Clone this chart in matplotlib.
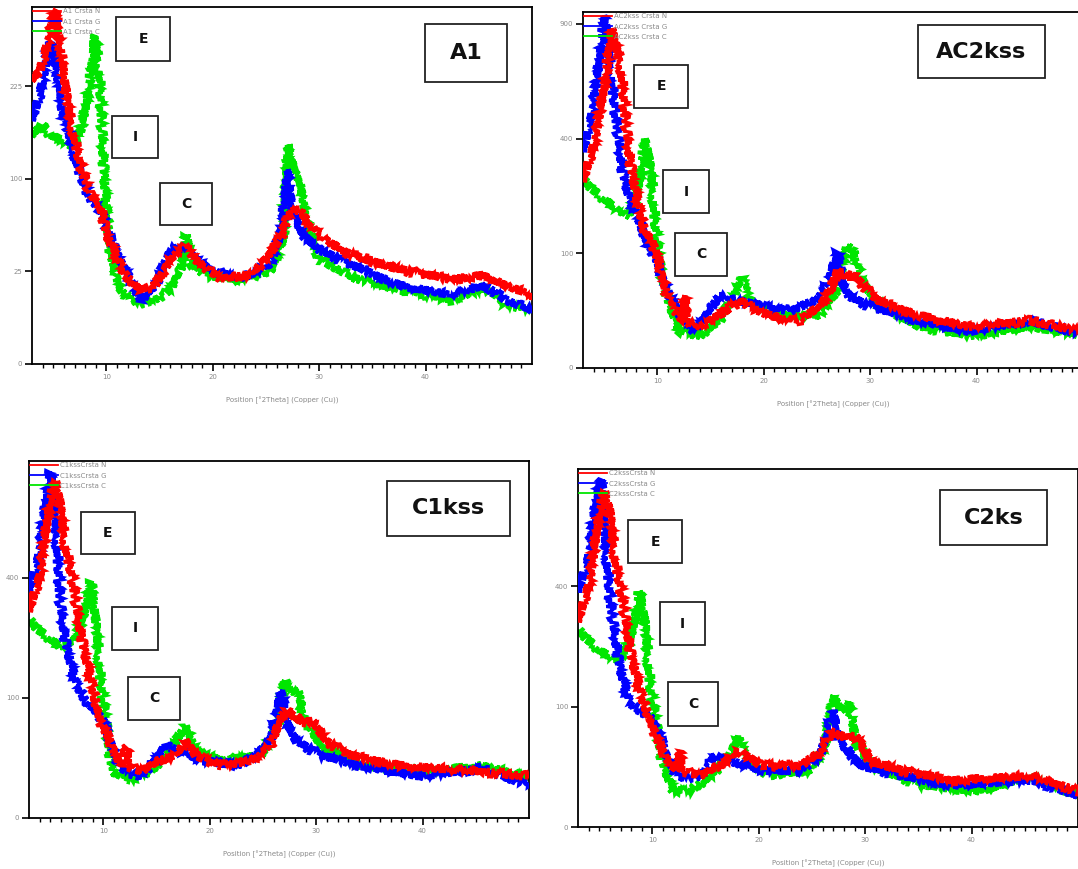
import numpy as np
import matplotlib
matplotlib.use("Agg")
import matplotlib.pyplot as plt
from matplotlib.lines import Line2D
from matplotlib.patches import Rectangle

# ---------------- data (2theta, counts) ----------------
A1_N_x = [3.0, 3.75, 4.5, 5.2, 5.8, 6.6, 7.5, 8.5, 9.4, 10.0, 10.8, 11.7, 13.2, 14.6, 16.0, 17.4, 18.3, 20.7, 23.5, 25.4, 26.5, 27.3, 28.2, 29.2, 30.6, 32.9, 37.6, 42.3, 45.6, 47.5, 50.0]
A1_N_y = [236, 250, 307, 366, 270, 174, 116, 83, 74, 49, 35, 23, 16, 18, 32, 41, 32, 21, 23, 35, 49, 69, 69, 56, 45, 35, 26, 21, 23, 18, 14]
A1_G_x = [3.0, 3.6, 4.2, 4.7, 5.2, 5.8, 6.6, 7.5, 8.5, 9.4, 10.0, 10.8, 11.7, 13.2, 14.6, 16.0, 16.9, 17.9, 19.7, 22.6, 25.4, 26.5, 27.0, 27.5, 28.5, 30.0, 32.9, 37.6, 42.3, 45.6, 47.5, 50.0]
A1_G_y = [174, 204, 253, 303, 270, 189, 147, 104, 79, 69, 56, 38, 26, 12, 18, 38, 41, 35, 26, 21, 29, 52, 110, 65, 49, 38, 29, 18, 14, 18, 12, 8.5]
A1_C_x = [3.0, 4.0, 4.7, 5.8, 6.6, 7.5, 8.0, 8.5, 8.9, 9.3, 9.6, 9.9, 10.4, 11.3, 12.7, 14.6, 16.0, 17.0, 17.5, 18.0, 19.3, 22.6, 25.4, 26.6, 27.1, 27.6, 28.1, 28.7, 30.0, 33.5, 37.6, 42.3, 45.6, 47.5, 50.0]
A1_C_y = [153, 167, 153, 147, 140, 153, 189, 236, 316, 253, 147, 79, 35, 16, 10, 12, 16, 26, 49, 29, 23, 21, 25, 45, 140, 110, 104, 65, 32, 21, 16, 12, 17, 10, 8.5]

AC2_N_x = [3.0, 4.1, 5.1, 5.7, 6.5, 6.9, 7.4, 8.1, 8.8, 9.5, 10.2, 11.0, 11.6, 12.5, 12.6, 12.7, 14.0, 15.8, 17.7, 18.6, 20.5, 23.3, 25.2, 26.3, 26.9, 27.6, 28.5, 29.4, 30.8, 34.6, 39.3, 44.9, 50.0]
AC2_N_y = [266, 392, 626, 873, 716, 502, 326, 212, 143, 123, 79, 34, 25, 16, 39, 16, 13, 21, 34, 29, 21, 17, 29, 45, 72, 64, 64, 51, 34, 21, 13, 17, 10]
AC2_G_x = [3.0, 3.7, 4.3, 4.9, 5.1, 5.5, 6.0, 6.7, 7.4, 8.3, 9.1, 9.8, 10.4, 11.2, 12.1, 13.5, 14.9, 15.8, 17.2, 19.6, 22.4, 24.7, 26.1, 26.9, 27.3, 28.0, 29.9, 34.6, 39.3, 44.9, 50.0]
AC2_G_y = [358, 464, 626, 863, 942, 716, 502, 295, 212, 164, 113, 95, 64, 39, 21, 10, 25, 39, 36, 29, 25, 34, 58, 104, 58, 39, 29, 17, 10, 17, 8]
AC2_C_x = [3.0, 4.6, 6.5, 7.4, 8.15, 8.6, 8.9, 9.4, 9.8, 10.2, 11.0, 12.1, 14.0, 15.8, 17.2, 17.9, 18.6, 21.5, 25.2, 26.9, 27.8, 28.5, 29.1, 30.4, 34.6, 39.3, 44.9, 50.0]
AC2_C_y = [266, 225, 187, 176, 238, 330, 399, 295, 143, 79, 34, 10, 8, 17, 39, 64, 34, 21, 21, 45, 113, 104, 64, 34, 13, 8, 13, 8]

C1_N_x = [3.0, 4.0, 5.0, 5.5, 5.9, 6.4, 7.1, 7.8, 8.8, 9.7, 10.6, 11.6, 12.2, 12.3, 13.5, 15.4, 16.8, 17.7, 18.7, 21.0, 23.8, 25.7, 26.7, 27.2, 28.6, 29.7, 30.9, 33.3, 38.0, 45.5, 50.0]
C1_N_y = [298, 407, 698, 789, 698, 514, 390, 243, 130, 65, 41, 19, 36, 19, 15, 23, 27, 41, 27, 19, 23, 36, 72, 79, 65, 65, 41, 27, 19, 15, 12]
C1_G_x = [3.0, 3.8, 4.5, 5.0, 5.5, 5.9, 6.4, 7.3, 8.3, 9.2, 10.0, 10.8, 11.6, 13.5, 14.9, 15.8, 17.2, 19.1, 22.9, 25.3, 26.2, 26.7, 27.2, 28.1, 30.5, 34.2, 39.9, 45.5, 50.0]
C1_G_y = [358, 459, 655, 836, 613, 327, 218, 130, 95, 80, 65, 36, 15, 12, 23, 36, 31, 23, 19, 36, 72, 112, 65, 41, 27, 19, 12, 17, 7]
C1_C_x = [3.0, 4.0, 5.9, 7.3, 8.3, 8.8, 9.3, 9.7, 10.2, 10.8, 12.5, 14.4, 16.3, 17.7, 18.7, 21.0, 24.8, 26.5, 27.0, 27.6, 28.3, 29.0, 30.5, 34.2, 39.9, 45.5, 50.0]
C1_C_y = [270, 243, 205, 218, 298, 390, 270, 130, 65, 15, 10, 15, 31, 59, 31, 23, 27, 65, 130, 112, 112, 65, 36, 19, 15, 19, 12]

C2_N_x = [3.0, 4.1, 4.9, 5.5, 6.0, 6.5, 7.2, 7.9, 8.8, 9.8, 10.7, 11.7, 12.5, 12.6, 12.7, 14.5, 16.4, 18.1, 20.2, 24.0, 25.8, 26.8, 27.7, 29.1, 30.5, 33.4, 38.1, 45.6, 50.0]
C2_N_y = [292, 417, 645, 777, 688, 487, 352, 213, 127, 77, 45, 26, 22, 40, 22, 18, 26, 40, 26, 26, 40, 63, 57, 57, 30, 22, 15, 18, 9]
C2_G_x = [3.0, 3.9, 4.6, 5.1, 5.5, 6.0, 6.8, 7.7, 8.8, 9.8, 10.7, 11.5, 12.6, 14.5, 15.9, 17.3, 20.2, 24.0, 25.8, 26.6, 27.0, 27.5, 29.6, 33.4, 38.1, 45.6, 50.0]
C2_G_y = [383, 487, 688, 834, 603, 352, 190, 109, 93, 85, 57, 30, 15, 18, 35, 30, 22, 22, 35, 77, 93, 51, 26, 18, 12, 15, 7]
C2_C_x = [3.0, 5.1, 7.0, 7.9, 8.5, 8.8, 9.3, 9.8, 10.3, 10.9, 11.9, 13.6, 15.5, 17.2, 18.1, 18.8, 21.1, 24.9, 26.3, 27.0, 27.7, 28.5, 29.1, 30.5, 35.2, 40.8, 45.6, 50.0]
C2_C_y = [265, 213, 190, 238, 321, 384, 292, 127, 77, 30, 9, 9, 18, 35, 57, 30, 18, 22, 45, 118, 93, 109, 51, 26, 12, 9, 18, 7]

panel_titles = ["A1", "AC2kss", "C1kss", "C2ks"]
legend_prefix = ["A1 Crsta", "AC2kss Crsta", "C1kssCrsta", "C2kssCrsta"]
series_suffix = ["N", "G", "C"]
y_ticks = [[0, 25, 100, 225], [0, 100, 400, 900], [0, 100, 400], [0, 100, 400]]
x_ticks = [10, 20, 30, 40]
x_label = "Position [°2Theta] (Copper (Cu))"

panels = [
    [(A1_N_x, A1_N_y), (A1_G_x, A1_G_y), (A1_C_x, A1_C_y)],
    [(AC2_N_x, AC2_N_y), (AC2_G_x, AC2_G_y), (AC2_C_x, AC2_C_y)],
    [(C1_N_x, C1_N_y), (C1_G_x, C1_G_y), (C1_C_x, C1_C_y)],
    [(C2_N_x, C2_N_y), (C2_G_x, C2_G_y), (C2_C_x, C2_C_y)],
]

# ---------------- layout (pixels) ----------------
W, H = 1078, 869
colors = ["#ff0000", "#0000ff", "#00e600"]
axes_px = [(32, 7, 532, 364), (583, 12, 1083, 368), (29, 461, 529, 818), (578, 469, 1078, 827)]
ytops = [372, 963, 885, 883]
title_box = [(425, 24, 507, 82), (918, 25, 1045, 78), (387, 481, 510, 536), (940, 490, 1047, 545)]
letter_boxes = [
    [("E", 116, 17, 170, 61), ("I", 112, 116, 158, 158), ("C", 160, 183, 212, 225)],
    [("E", 634, 65, 688, 108), ("I", 663, 170, 709, 213), ("C", 675, 233, 727, 276)],
    [("E", 81, 512, 135, 554), ("I", 112, 607, 158, 650), ("C", 128, 677, 180, 720)],
    [("E", 628, 520, 682, 563), ("I", 660, 602, 705, 645), ("C", 668, 682, 718, 726)],
]

fig = plt.figure(figsize=(W / 100, H / 100), dpi=100)
grey = "#8a8a8a"


def fwd(v):
    return np.sqrt(np.clip(v, 0, None))


def inv(v):
    return np.square(v)


for i in range(4):
    l, t, r, b = axes_px[i]
    ax = fig.add_axes([l / W, 1 - b / H, (r - l) / W, (b - t) / H])
    ax.set_yscale("function", functions=(fwd, inv))
    for k in [2, 1, 0]:
        xs, ys = panels[i][k]
        ln, = ax.plot(xs, ys, color=colors[k], lw=2.3, solid_joinstyle="miter",
                      zorder=2 + (2 - k))
        ln.set_sketch_params(scale=4.5, length=1.5, randomness=2.0)
    ax.set_xticks(x_ticks)
    ax.set_xticks(np.arange(4, 50, 1), minor=True)
    ax.set_yticks(y_ticks[i])
    ax.set_xlim(3, 50)
    ax.set_ylim(0, ytops[i])
    ax.tick_params(axis="both", which="major", direction="out", length=5, width=1.2,
                   labelsize=5, labelcolor=grey, color="black", pad=2)
    ax.tick_params(axis="x", which="minor", direction="out", length=3, width=1.0, color="black")
    ax.tick_params(axis="y", which="minor", left=False)
    for sp in ax.spines.values():
        sp.set_linewidth(1.3)
        sp.set_color("black")
    ax.set_xlabel(x_label, fontsize=5, color=grey, labelpad=12)
    handles = [Line2D([0], [0], color=colors[k], lw=1.3) for k in range(3)]
    labels = [f"{legend_prefix[i]} {s}" for s in series_suffix]
    ax.legend(handles, labels, loc="upper left", frameon=False, fontsize=5,
              labelcolor=grey, handlelength=4.0, handletextpad=0.2,
              borderaxespad=0.1, borderpad=0.1, labelspacing=0.6)

# title boxes and annotation boxes
def box(x0, y0, x1, y1, text, fs):
    rect = Rectangle((x0 / W, 1 - y1 / H), (x1 - x0) / W, (y1 - y0) / H,
                     transform=fig.transFigure, facecolor="white", edgecolor="#222222",
                     lw=1.3, zorder=10)
    fig.add_artist(rect)
    fig.text((x0 + x1) / 2 / W, 1 - (y0 + y1) / 2 / H, text, ha="center", va="center",
             fontsize=fs, fontweight="bold", color="#111111", zorder=11)


for i in range(4):
    x0, y0, x1, y1 = title_box[i]
    box(x0, y0, x1, y1, panel_titles[i], 16)
    for (txt, a, b_, c, d) in letter_boxes[i]:
        box(a, b_, c, d, txt, 10)

fig.savefig("out.png", dpi=100)
